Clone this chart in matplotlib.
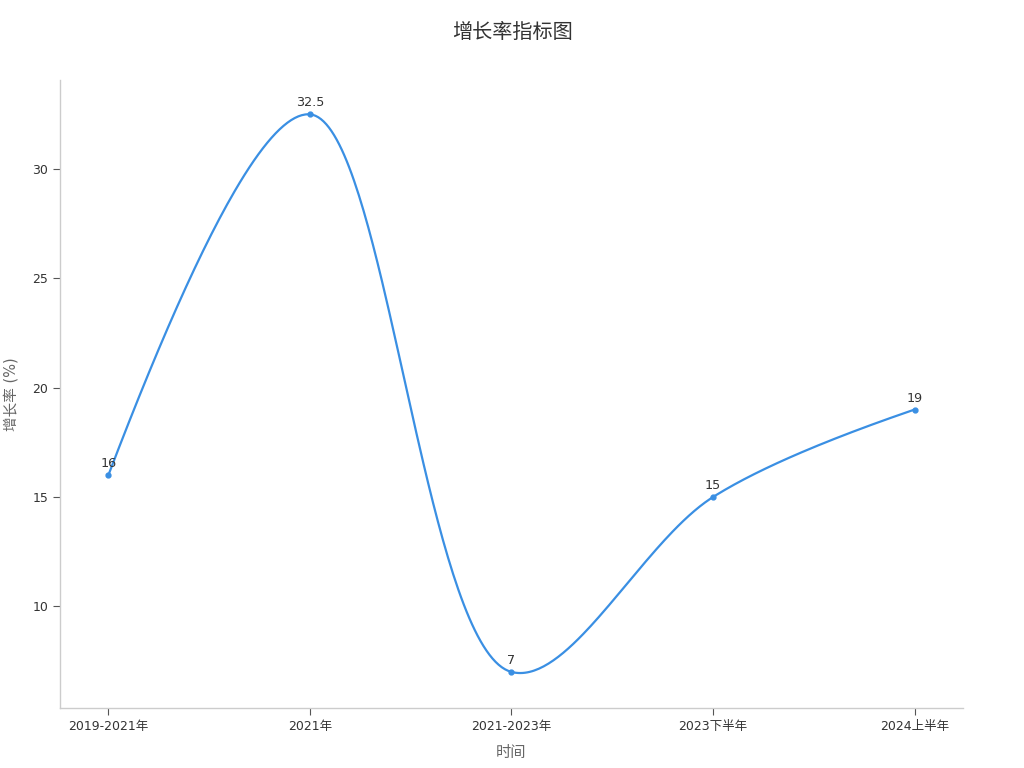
import numpy as np
import matplotlib
matplotlib.use("Agg")
import matplotlib.pyplot as plt

plt.rcParams["font.family"] = ["DejaVu Sans", "Noto Sans CJK SC"]

CATEGORIES = ["2019-2021年", "2021年", "2021-2023年", "2023下半年", "2024上半年"]
GROWTH = [16, 32.5, 7, 15, 19]

LINE_COLOR = "#3a8fe3"


def make_tangent(prev, this, nxt, smoothness=1.0):
    # centripetal catmull-rom control points (pixel space)
    d1 = prev - this
    d2 = nxt - this
    d1a = np.hypot(*d1) ** 0.5
    d2a = np.hypot(*d2) ** 0.5
    num = (d2a * d2a * d1 - d1a * d1a * d2) * smoothness
    denom1 = 3 * d2a * (d1a + d2a)
    denom2 = 3 * d1a * (d1a + d2a)
    return this + num / denom1, this - num / denom2


def smooth_path(pts, n=80):
    t = np.linspace(0, 1, n)[:, None]
    tangents = [make_tangent(pts[i - 1], pts[i], pts[i + 1]) for i in range(1, len(pts) - 1)]
    segs = []
    # first segment: quadratic
    c = tangents[0][0]
    segs.append((1 - t) ** 2 * pts[0] + 2 * (1 - t) * t * c + t ** 2 * pts[1])
    for i in range(2, len(pts) - 1):
        c1 = tangents[i - 2][1]
        c2 = tangents[i - 1][0]
        segs.append((1 - t) ** 3 * pts[i - 1] + 3 * (1 - t) ** 2 * t * c1
                    + 3 * (1 - t) * t ** 2 * c2 + t ** 3 * pts[i])
    c = tangents[-1][1]
    segs.append((1 - t) ** 2 * pts[-2] + 2 * (1 - t) * t * c + t ** 2 * pts[-1])
    return np.vstack(segs)


fig = plt.figure(figsize=(10.24, 7.68), dpi=100)
ax = fig.add_axes([0.0586, 0.0781, 0.8818, 0.8177])

x = np.arange(len(CATEGORIES))
ax.set_xlim(-0.24, len(CATEGORIES) - 1 + 0.24)
ax.set_ylim(5.35, 34.07)

# build the spline in display coordinates, then map back to data
disp = ax.transData.transform(np.column_stack([x, GROWTH]))
curve = ax.transData.inverted().transform(smooth_path(disp))
ax.plot(curve[:, 0], curve[:, 1], color=LINE_COLOR, lw=1.6, solid_capstyle="round")
ax.plot(x, GROWTH, "o", color=LINE_COLOR, ms=3.5)

for xi, v in zip(x, GROWTH):
    ax.annotate(f"{v:g}", (xi, v), xytext=(0, 3.5), textcoords="offset points",
                ha="center", va="bottom", fontsize=9.2, color="#333333")

ax.set_xticks(x)
ax.set_xticklabels(CATEGORIES)
ax.set_yticks([10, 15, 20, 25, 30])
ax.tick_params(axis="both", colors="#555555", labelcolor="#333333", labelsize=9,
               length=5, width=0.8)

for side in ["top", "right"]:
    ax.spines[side].set_visible(False)
for side in ["left", "bottom"]:
    ax.spines[side].set_color("#cccccc")
    ax.spines[side].set_linewidth(1)

ax.set_xlabel("时间", fontsize=11, color="#666666", labelpad=9)
ax.set_ylabel("增长率 (%)", fontsize=10.5, color="#666666", labelpad=10)
fig.suptitle("增长率指标图", y=0.97, fontsize=14.5, color="#333333")

fig.savefig("out.png", dpi=100)
